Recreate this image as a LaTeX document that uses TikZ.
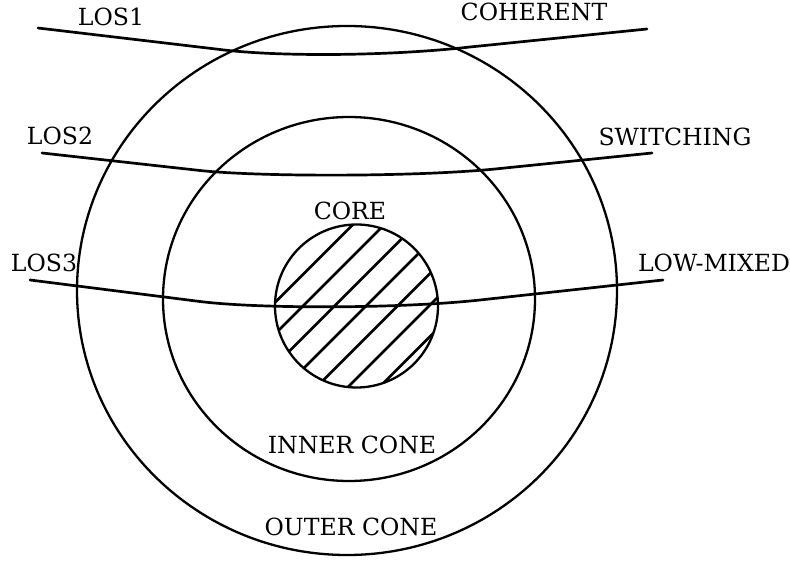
\documentclass[tikz,border=0pt]{standalone}
\usepackage{fontspec}
\setmainfont{DejaVu Serif}
\begin{document}
\begin{tikzpicture}[x=1pt,y=-1pt,
  ring/.style={line width=2.3pt},
  losline/.style={line width=2.7pt, line cap=round, line join=round},
  hatch/.style={line width=2.7pt},
  lbl/.style={font=\fontsize{23.6}{24}\selectfont, inner sep=0pt, anchor=center}]
\useasboundingbox (0,0) rectangle (790,561);
% cones
\draw[ring] (347,290.5) ellipse [x radius=270, y radius=264.5];
\draw[ring] (349,299) ellipse [x radius=186, y radius=182];
% core hatching
\begin{scope}
  \clip (356.5,306) circle [radius=81.5];
  \foreach \c in {-85,-53.5,...,110} {
    \draw[hatch] ({356.5+\c/2-100},{306+\c/2+100}) -- ({356.5+\c/2+100},{306+\c/2-100});
  }
\end{scope}
\draw[ring] (356.5,306) circle [radius=81.5];
% lines of sight
\coordinate (l1a) at (38,28);  \coordinate (l1b) at (647,29);
\coordinate (l2a) at (42,153); \coordinate (l2b) at (652,153);
\coordinate (l3a) at (30,280); \coordinate (l3b) at (663,280);
\draw[losline] (l1a) -- (220,49.5) .. controls (280,57) and (390,56) .. (470,47) -- (l1b);
\draw[losline] (l2a) -- (200,170.5) .. controls (260,177) and (420,177) .. (500,168.5) -- (l2b);
\draw[losline] (l3a) -- (200,301.5) .. controls (260,309) and (400,308.7) .. (480,300) -- (l3b);
% labels
\node[lbl] (los1) at (111,17) {LOS1};
\node[lbl] (coherent) at (534,12) {COHERENT};
\node[lbl] (los2) at (60,136) {LOS2};
\node[lbl] (switching) at (675,137) {SWITCHING};
\node[lbl] (core) at (350,211) {CORE};
\node[lbl] (los3) at (44,263) {LOS3};
\node[lbl] (lowmixed) at (714,263) {LOW-MIXED};
\node[lbl] (inner) at (352,445) {INNER CONE};
\node[lbl] (outer) at (351,527) {OUTER CONE};
\end{tikzpicture}
\end{document}
